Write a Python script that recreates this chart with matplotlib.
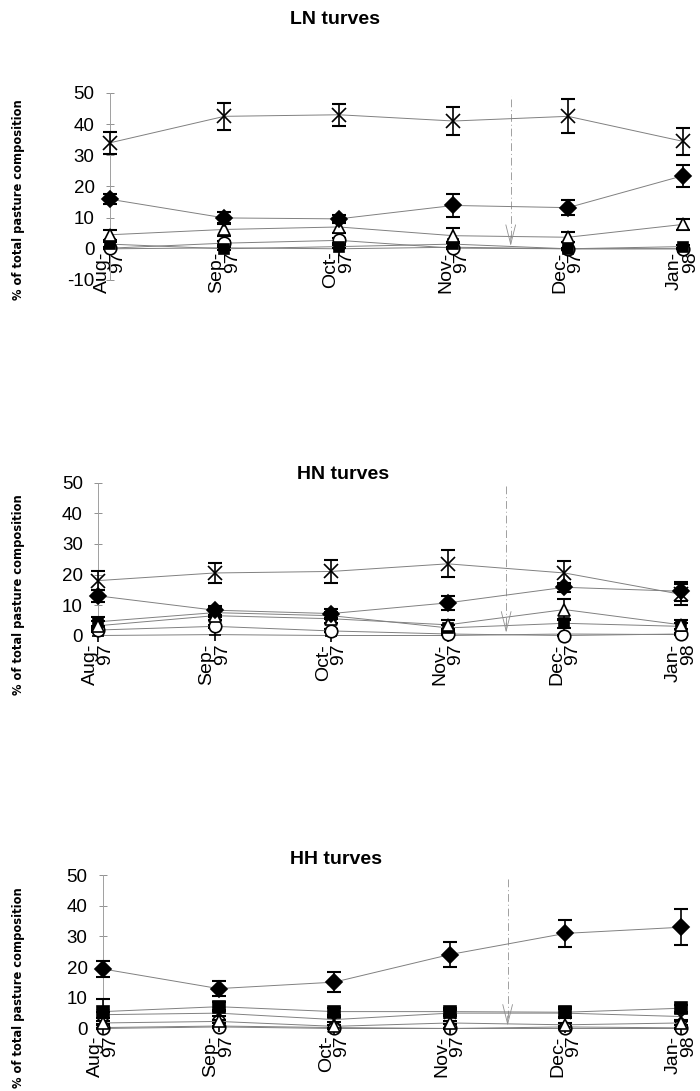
import numpy as np
import matplotlib.pyplot as plt

months = ['Aug-\n97', 'Sep-\n97', 'Oct-\n97', 'Nov-\n97', 'Dec-\n97', 'Jan-\n98']

# LN turves
ln_x = [34, 42.5, 43, 41, 42.5, 34.5]
ln_x_err = [3.6, 4.3, 3.6, 4.4, 5.5, 4.3]
ln_diamond = [15.9, 9.9, 9.6, 13.9, 13.2, 23.4]
ln_diamond_err = [1.6, 2.0, 1.3, 3.7, 2.4, 3.6]
ln_triangle = [4.5, 6.2, 7.0, 4.2, 3.7, 7.8]
ln_triangle_err = [1.6, 2.0, 2.0, 2.4, 1.6, 1.8]
ln_square = [1.5, 0, 0.7, 1.5, 0, 0.7]
ln_square_err = [0.8, 0.5, 0.6, 0.8, 0.4, 0.5]
ln_circle = [0.2, 1.8, 2.7, 0.2, 0, 0]
ln_circle_err = [0.3, 0.6, 0.8, 0.3, 0.2, 0.2]
ln_plus = [0, 0.3, 0, 0.5, 0, 0]

# HN turves
hn_x = [18, 20.5, 21, 23.5, 20.5, 13.5]
hn_x_err = [3.0, 3.2, 3.8, 4.4, 3.9, 3.5]
hn_diamond = [13, 8.3, 7.2, 10.7, 15.8, 14.5]
hn_diamond_err = [2.0, 1.5, 1.5, 2.2, 1.5, 3.2]
hn_triangle = [3.2, 6.5, 5.5, 3.5, 8.5, 3.5]
hn_triangle_err = [1.5, 1.5, 1.5, 1.5, 3.5, 1.5]
hn_square = [4.5, 7.5, 6.5, 2.5, 4, 3]
hn_square_err = [1.5, 1.5, 1.2, 1.0, 1.5, 1.0]
hn_circle = [1.8, 3, 1.5, 0.5, 0, 0.5]
hn_circle_err = [0.5, 0.6, 0.5, 0.3, 0.2, 0.3]
hn_plus = [0, 0.3, 0, 0, 0.5, 0.3]

# HH turves
hh_x = [4.5, 5, 2.9, 5, 5, 3.9]
hh_x_err = [1.0, 1.0, 0.8, 1.0, 1.2, 1.0]
hh_diamond = [19.4, 13, 15.1, 24.1, 31, 33]
hh_diamond_err = [2.7, 2.4, 3.2, 4.0, 4.5, 5.8]
hh_triangle = [1.8, 2.3, 0.7, 1.8, 1.2, 1.8]
hh_triangle_err = [0.6, 0.6, 0.4, 0.5, 0.5, 0.6]
hh_square = [5.5, 7.1, 5.5, 5.5, 5.3, 6.6]
hh_square_err = [4.0, 1.5, 1.2, 1.2, 1.8, 1.2]
hh_circle = [0, 0.5, 0, 0, 0, 0]
hh_circle_err = [0.2, 0.3, 0.2, 0.2, 0.2, 0.2]
hh_plus = [0.3, 0.8, 0.3, 0, 0.5, 0.2]

plt.rcParams['font.family'] = ['Liberation Sans', 'DejaVu Sans']
plt.rcParams['axes.unicode_minus'] = False

LINE = '#808080'


def draw_series(ax, y, err, marker, size, face):
    x = np.arange(len(y))
    ax.plot(x, y, color=LINE, lw=0.7, zorder=2)
    if err is not None:
        ax.errorbar(x, y, yerr=err, fmt='none', ecolor='black', elinewidth=1.2,
                    capsize=5, capthick=1.5, zorder=3, clip_on=False)
    ax.plot(x, y, ls='none', marker=marker, ms=size, mfc=face, mec='black',
            mew=1.2, zorder=4, clip_on=False)


def draw_panel(rect, ymin, yticks, xpad, title, title_xy, ylabel_y, data):
    ax = fig.add_axes(rect)
    # category labels sit under the zero line, so move the (hidden) bottom spine there first
    ax.spines['bottom'].set_position(('data', 0))
    ax.spines['bottom'].set_color('none')
    for s in ['top', 'right']:
        ax.spines[s].set_visible(False)
    ax.spines['left'].set_color('#a0a0a0')
    ax.spines['left'].set_linewidth(0.7)
    ax.spines['left'].set_linestyle((0, (2, 1)))

    for y, err, marker, size, face in data:
        draw_series(ax, y, err, marker, size, face)

    # change of treatment between Nov and Dec
    ax.plot([3.5, 3.5], [3.5, 49], color='#a0a0a0', lw=0.7, ls=(0, (8, 3, 1, 3)), zorder=1)
    ax.annotate('', xy=(3.5, 0), xytext=(3.5, 5),
                arrowprops=dict(arrowstyle='->,head_length=1.4,head_width=0.35',
                                color='#909090', lw=0.6))

    ax.set_xlim(0, 5)
    ax.set_ylim(ymin, 50)
    ax.set_yticks(yticks)
    ax.set_xticks(range(len(months)))
    ax.set_xticklabels(months, rotation=90, fontsize=14, multialignment='right',
                       va='top', ha='center', linespacing=0.9)
    ax.tick_params(axis='x', length=0, pad=xpad)
    ax.tick_params(axis='y', labelsize=13.5, length=6, direction='inout',
                   color='#909090', width=0.7, pad=8)
    ax.patch.set_alpha(0)

    fig.text(title_xy[0], title_xy[1], title, ha='center', va='center',
             fontsize=14, fontweight='bold')
    fig.text(0.027, ylabel_y, '% of total pasture composition', rotation=90,
             ha='center', va='center', fontsize=8.3, fontweight='bold',
             family='DejaVu Sans')
    return ax


fig = plt.figure(figsize=(7, 10.91), dpi=100)

draw_panel([0.157, 0.7434, 0.818, 0.1714], -10, range(-10, 51, 10), 2, 'LN turves',
           (0.478, 0.982), 0.817, [
    (ln_plus, None, '+', 8, 'none'),
    (ln_circle, ln_circle_err, 'o', 9, 'white'),
    (ln_square, ln_square_err, 's', 7.5, 'black'),
    (ln_triangle, ln_triangle_err, '^', 9, 'white'),
    (ln_diamond, ln_diamond_err, 'D', 8, 'black'),
    (ln_x, ln_x_err, 'x', 10, 'black'),
])

draw_panel([0.14, 0.4161, 0.833, 0.1412], -0.5, range(0, 51, 10), 6, 'HN turves',
           (0.49, 0.565), 0.455, [
    (hn_plus, None, '+', 8, 'none'),
    (hn_circle, hn_circle_err, 'o', 9, 'white'),
    (hn_square, hn_square_err, 's', 7.5, 'black'),
    (hn_triangle, hn_triangle_err, '^', 9, 'white'),
    (hn_diamond, hn_diamond_err, 'D', 8, 'black'),
    (hn_x, hn_x_err, 'x', 10, 'black'),
])

draw_panel([0.147, 0.0559, 0.826, 0.142], -0.5, range(0, 51, 10), 5, 'HH turves',
           (0.48, 0.212), 0.095, [
    (hh_circle, hh_circle_err, 'o', 9, 'white'),
    (hh_plus, None, '+', 8, 'none'),
    (hh_triangle, hh_triangle_err, '^', 8, 'white'),
    (hh_x, hh_x_err, 'x', 9, 'black'),
    (hh_square, hh_square_err, 's', 8, 'black'),
    (hh_diamond, hh_diamond_err, 'D', 8, 'black'),
])

fig.savefig('out.png', dpi=100)
